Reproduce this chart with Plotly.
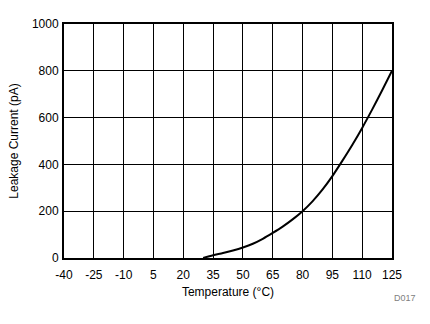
import plotly.graph_objects as go

# Leakage current vs. temperature
temperature_c = [30, 35, 40, 45, 50, 55, 60, 65, 70, 75, 80, 85, 90, 95, 100, 105, 110, 115, 120, 125]
leakage_pa = [0, 12, 21, 32, 45, 61, 82, 107, 134, 165, 200, 242, 292, 350, 415, 483, 556, 634, 716, 800]

x_ticks = [-40, -25, -10, 5, 20, 35, 50, 65, 80, 95, 110, 125]
y_ticks = [0, 200, 400, 600, 800, 1000]

FONT = "Liberation Sans, Arial, sans-serif"

fig = go.Figure()
fig.add_trace(go.Scatter(
    x=temperature_c, y=leakage_pa, mode="lines",
    line=dict(color="black", width=2, shape="spline", smoothing=0.8),
    showlegend=False,
))

axis_common = dict(
    showline=True, linecolor="black", linewidth=2, mirror=True,
    showgrid=True, gridcolor="black", gridwidth=1,
    zeroline=False, ticks="",
    tickfont=dict(family=FONT, size=12, color="black"),
)

fig.update_xaxes(
    range=[-40, 125], tickvals=x_ticks, ticktext=[str(v) for v in x_ticks],
    ticklabelstandoff=5,
    title=dict(text="Temperature (°C)", standoff=6,
               font=dict(family=FONT, size=12, color="black")),
    **axis_common,
)
fig.update_yaxes(
    range=[0, 1000], tickvals=y_ticks, ticktext=[str(v) for v in y_ticks],
    ticklabelstandoff=1,
    title=dict(text="Leakage Current (pA)", standoff=11,
               font=dict(family=FONT, size=12, color="black")),
    **axis_common,
)

fig.add_annotation(
    text="D017", xref="paper", yref="paper", x=1.04, y=-0.17,
    xanchor="center", yanchor="middle", showarrow=False,
    font=dict(family=FONT, size=9, color="#808080"),
)

fig.update_layout(
    width=430, height=324,
    margin=dict(l=61, r=38, t=24, b=66),
    paper_bgcolor="white", plot_bgcolor="white",
)

fig.write_html("out.html")
